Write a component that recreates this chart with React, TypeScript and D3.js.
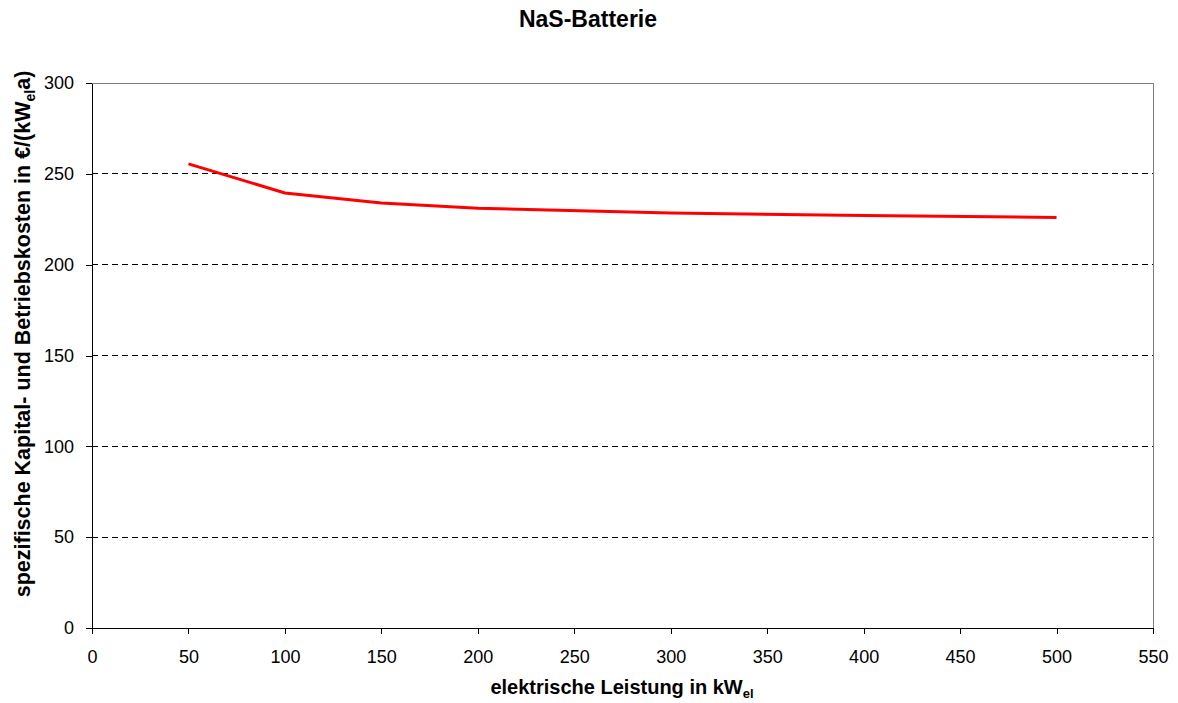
import { useEffect, useRef } from 'react';
import * as d3 from 'd3';

// values
const leistung = [50, 100, 150, 200, 300, 400, 500];
const kosten = [255.5, 239.5, 234, 231, 228.5, 227, 226];
const xTicks = [0, 50, 100, 150, 200, 250, 300, 350, 400, 450, 500, 550];
const yTicks = [0, 50, 100, 150, 200, 250, 300];

export default function App() {
  const ref = useRef<SVGSVGElement>(null);

  useEffect(() => {
    const svg = d3.select(ref.current);
    svg.selectAll('*').remove();

    const left = 92, right = 1153, top = 83, bottom = 628;
    const font = '"Liberation Sans", Arial, sans-serif';

    const x = d3.scaleLinear().domain([0, 550]).range([left, right]);
    const y = d3.scaleLinear().domain([0, 300]).range([bottom, top]);

    // grid
    svg.append('g')
      .selectAll('line')
      .data(yTicks.filter(d => d > 0 && d < 300))
      .join('line')
      .attr('x1', left).attr('x2', right)
      .attr('y1', d => y(d)).attr('y2', d => y(d))
      .attr('stroke', '#000').attr('stroke-width', 1)
      .attr('stroke-dasharray', '6,4')
      .attr('shape-rendering', 'crispEdges');

    // gray frame top/right
    svg.append('path')
      .attr('d', `M${left},${y(300)}H${right}V${bottom}`)
      .attr('fill', 'none').attr('stroke', '#808080')
      .attr('shape-rendering', 'crispEdges');

    const xAxis = svg.append('g')
      .attr('transform', `translate(0,${bottom})`)
      .call(d3.axisBottom(x).tickValues(xTicks).tickSize(6).tickSizeOuter(0).tickPadding(16));
    const yAxis = svg.append('g')
      .attr('transform', `translate(${left},0)`)
      .call(d3.axisLeft(y).tickValues(yTicks).tickSize(6).tickSizeOuter(0).tickPadding(12));

    [xAxis, yAxis].forEach(a => {
      a.select('.domain').attr('stroke', '#000');
      a.selectAll('line').attr('stroke', '#000');
      a.selectAll('path, line').attr('shape-rendering', 'crispEdges');
      a.selectAll('text').attr('font-family', font).attr('font-size', 18).attr('fill', '#000');
    });

    // series
    svg.append('path')
      .datum(leistung.map((v, i) => [v, kosten[i]] as [number, number]))
      .attr('fill', 'none')
      .attr('stroke', '#ff0000')
      .attr('stroke-width', 3)
      .attr('d', d3.line<[number, number]>().x(d => x(d[0])).y(d => y(d[1])));

    // title
    svg.append('text')
      .attr('x', 588).attr('y', 27)
      .attr('text-anchor', 'middle')
      .attr('font-family', font).attr('font-weight', 'bold').attr('font-size', 23)
      .text('NaS-Batterie');

    // x label
    const xl = svg.append('text')
      .attr('x', 622).attr('y', 694)
      .attr('text-anchor', 'middle')
      .attr('font-family', font).attr('font-weight', 'bold').attr('font-size', 20);
    xl.append('tspan').text('elektrische Leistung in kW');
    xl.append('tspan').attr('font-size', 13).attr('dy', 4).text('el');

    // y label
    const yl = svg.append('text')
      .attr('transform', `translate(30,334) rotate(-90)`)
      .attr('text-anchor', 'middle')
      .attr('font-family', font).attr('font-weight', 'bold').attr('font-size', 21.5);
    yl.append('tspan').text('spezifische Kapital- und Betriebskosten in €/(kW');
    yl.append('tspan').attr('font-size', 14).attr('dy', 5).text('el');
    yl.append('tspan').attr('dy', -5).text('a)');
  }, []);

  return (
    <svg ref={ref} width={1178} height={703}
      style={{ position: 'absolute', left: 0, top: 0, background: '#fff' }} />
  );
}
